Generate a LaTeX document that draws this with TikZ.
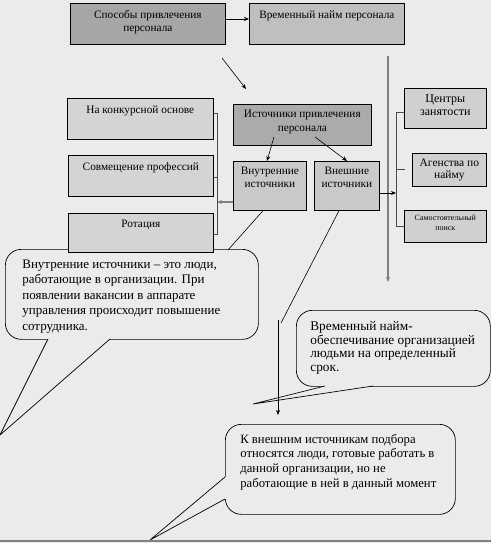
\documentclass[tikz,border=0pt]{standalone}
\usepackage{fontspec}
\setmainfont{Liberation Serif}
\usetikzlibrary{arrows.meta}
\definecolor{bg}{HTML}{EBEBEB}
\definecolor{cA}{HTML}{A6A6A6}
\definecolor{cB}{HTML}{BFBFBF}
\definecolor{cL}{HTML}{D4D4D4}
\definecolor{cI}{HTML}{ABABAB}
\definecolor{cV}{HTML}{C9C9C9}
\definecolor{cR}{HTML}{D0D0D0}
\definecolor{lg}{HTML}{808080}
\definecolor{dg}{HTML}{4A4A4A}
% box text: width, height, baseline offset, text
\newcommand\bxt[4]{\parbox[c][#2pt][t]{#1pt}{\centering\rule{0pt}{#3pt}#4\par}}
% callout text: width, height, left offset, baseline offset, text
\newcommand\clt[5]{\parbox[c][#2pt][t]{#1pt}{\raggedright\leftskip=#3pt\rule{0pt}{#4pt}#5\par}}
\begin{document}
\begin{tikzpicture}[x=1pt,y=-1pt,
  box/.style={draw=black, line width=0.7pt, inner sep=0pt, anchor=north west,
    font=\fontsize{11.3}{13.5}\selectfont},
  callout/.style={draw=black, line width=0.7pt, fill=bg, inner sep=0pt, anchor=north west,
    rounded corners=16pt},
  arr/.style={line width=0.6pt, -{Stealth[length=5pt,width=4pt]}},
  thin/.style={line width=0.6pt},
  grayarr/.style={draw=lg, line width=1.4pt, -{Stealth[length=5pt,width=4pt]}},
  brk/.style={draw=dg, line width=1pt},
  tail/.style={draw=black, line width=0.7pt}
]
\fill[bg] (0,0) rectangle (491,543);
\useasboundingbox (0,0) rectangle (491,543);

% callouts (drawn first: boxes overlap them)
\node[callout, font=\fontsize{13}{15.5}\selectfont] (c1) at (5,249)
  {\clt{253}{90}{17}{19}{Внутренние источники – это люди,\\работающие в организации. При\\появлении вакансии в аппарате\\управления происходит повышение\\сотрудника.}};
\fill[bg] (48,339) -- (0,435) -- (110,339) -- (110,337) -- (48,337) -- cycle;
\draw[tail] (48,339) -- (0,435) -- (110,339);

\node[callout, font=\fontsize{13.3}{13.7}\selectfont] (c2) at (296,310)
  {\clt{194}{76}{14}{20}{Временный найм-\\обеспечивание организацией\\людьми на определенный\\срок.}};
\fill[bg] (325,386) -- (253,404) -- (373,386) -- (373,384) -- (325,384) -- cycle;
\draw[tail] (325,386) -- (253,404) -- (373,386);

\node[callout, font=\fontsize{12.7}{14.9}\selectfont] (c3) at (225,424)
  {\clt{230}{90}{15}{18.7}{К внешним источникам подбора\\относятся люди, готовые работать в\\данной организации, но не\\работающие в ней в данный момент}};
\fill[bg] (225,477) -- (150,540) -- (225,499) -- (227,499) -- (227,477) -- cycle;
\draw[tail] (225,477) -- (150,540) -- (225,499);

% boxes
\node[box, fill=cA] (sp) at (70,3) {\bxt{155}{41}{15}{Способы привлечения\\персонала}};
\node[box, fill=cB] (vr) at (249,3) {\bxt{155}{41}{15}{Временный найм персонала}};
\node[box, fill=cL] (kon) at (67,98) {\bxt{146}{41}{14.7}{На конкурсной основе}};
\node[box, fill=cL] (sov) at (68,155) {\bxt{145}{41}{15}{Совмещение профессий}};
\node[box, fill=cL] (rot) at (68,213) {\bxt{145}{39}{14}{Ротация}};
\node[box, fill=cI] (ist) at (233,104) {\bxt{138}{41}{13.3}{Источники привлечения\\персонала}};
\node[box, fill=cV] (vn) at (233,161) {\bxt{73}{49}{13}{Внутренние\\источники}};
\node[box, fill=cV] (ext) at (314,161) {\bxt{65}{49}{13}{Внешние\\источники}};
\node[box, fill=cR, font=\fontsize{12}{13.5}\selectfont] (cz) at (404,88) {\bxt{82}{40}{13.7}{Центры\\занятости}};
\node[box, fill=cR, font=\fontsize{11.5}{11.7}\selectfont] (ag) at (412,153) {\bxt{74}{33}{13}{Агенства по\\найму}};
\node[box, fill=cR, font=\fontsize{8}{10.5}\selectfont] (sam) at (404,210) {\bxt{82}{32}{10}{Самостоятельный\\поиск}};

% free ends
\coordinate (d1) at (222,58);
\coordinate (d2) at (246,89);
\coordinate (g1) at (388,56);
\coordinate (g2) at (388,282);
\coordinate (vnc) at (228,250);
\coordinate (exe) at (281,323);
\coordinate (v1) at (278,320);
\coordinate (v2) at (278,415);
\coordinate (lb) at (217,202);
\coordinate (rb) at (396,193);
\coordinate (i1) at (274,137);
\coordinate (i2) at (315,137);

% connectors
\draw[arr] (sp.east |- 0,19) -- (vr.west |- 0,19);
\draw[arr] (d1) -- (d2);
\draw[grayarr] (g1) -- (g2);
\draw[thin] (vn.south -| 263,0) -- (vnc);
\draw[thin] (ext.south -| 339,0) -- (exe);
\draw[arr] (v1) -- (v2);
\draw[arr] (i1) -- (vn.north -| 267,0);
\draw[arr] (i2) -- (ext.north -| 347,0);
\draw[grayarr] (vn.west |- lb) -- (lb);
\draw[brk] (kon.east |- 0,113) -- (217,113) -- (217,234) -- (rot.east |- 0,234);
\draw[brk] (sov.east |- 0,177) -- (217,177);
\draw[arr] (ext.east |- rb) -- (rb);
\draw[brk] (cz.west |- 0,112) -- (396,112) -- (396,226) -- (sam.west |- 0,226);
\draw[brk] (396,169) -- (405,169);
\draw[draw=lg, line width=1.5pt] (0,541) -- (491,541);
\end{tikzpicture}
\end{document}
